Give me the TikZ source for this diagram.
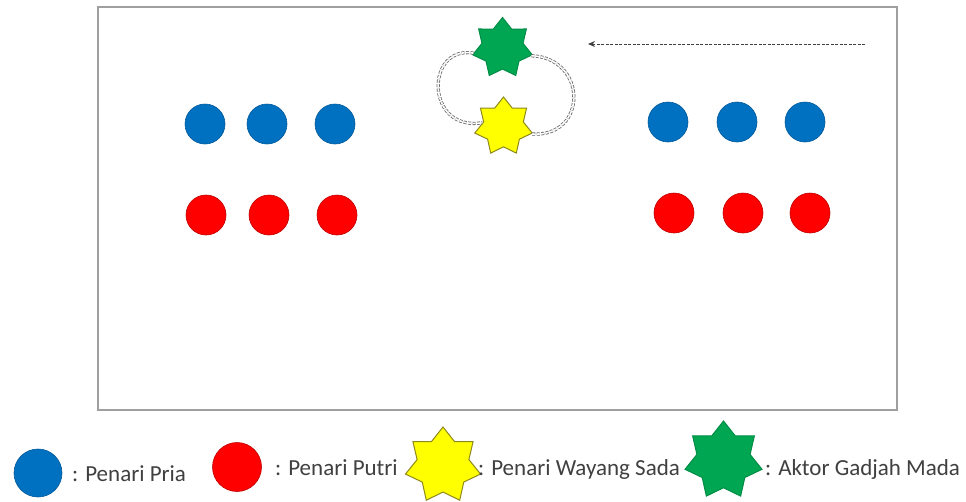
\documentclass[tikz,border=0pt]{standalone}
\usepackage{fontspec}
\setmainfont{Carlito}
\usetikzlibrary{shapes.geometric,arrows.meta}
\definecolor{pblue}{RGB}{0,112,192}
\definecolor{pred}{RGB}{255,0,0}
\definecolor{pyellow}{RGB}{255,255,0}
\definecolor{pgreen}{RGB}{0,166,82}
\definecolor{txt}{RGB}{64,64,64}
\tikzset{
  bluedot/.style={circle,fill=pblue,draw=pblue!80!black,line width=0.6pt,minimum size=40pt,inner sep=0pt},
  reddot/.style={circle,fill=pred,draw=pred!75!black,line width=0.6pt,minimum size=40pt,inner sep=0pt},
  starshape/.style={star,star points=7,star point ratio=1.45,inner sep=0pt,line width=1pt},
  ystar/.style={starshape,fill=pyellow,draw=olive!80!gray},
  gstar/.style={starshape,fill=pgreen,draw=pgreen!85!black},
  legtext/.style={anchor=west,text=txt,font=\fontsize{23}{26}\selectfont,inner sep=0pt},
  orbit/.style={draw=gray!80!black,double=white,double distance=1.6pt,line width=0.8pt,dash pattern=on 3pt off 1.5pt},
  flow/.style={draw=black!75,line width=1pt,dash pattern=on 3pt off 1.5pt,-{Stealth[length=7pt,width=6pt]}},
}
\begin{document}
\begin{tikzpicture}[x=1pt,y=-1pt]
\useasboundingbox (0,0) rectangle (966,501);
\fill[white] (0,0) rectangle (966,501);
\draw[gray!75,line width=1.5pt] (98,7) rectangle (897,410);
% left group
\node[bluedot] (b1) at (205,124) {};
\node[bluedot] (b2) at (267,124) {};
\node[bluedot] (b3) at (335,124) {};
\node[reddot] (r1) at (206,215) {};
\node[reddot] (r2) at (269,215) {};
\node[reddot] (r3) at (337,215) {};
% right group
\node[bluedot] (b4) at (668,122) {};
\node[bluedot] (b5) at (737,122) {};
\node[bluedot] (b6) at (805,122) {};
\node[reddot] (r4) at (674,213) {};
\node[reddot] (r5) at (743,213) {};
\node[reddot] (r6) at (810,213) {};
% stars
\node[gstar,minimum size=61pt] (g) at (502.5,48) {};
\node[ystar,minimum size=59pt] (y) at (503.5,126.5) {};
\draw[orbit] (g.190) .. controls (425,45) and (425,132) .. (y.170);
\draw[orbit] (g.345) .. controls (588,58) and (588,138) .. (y.345);
\coordinate (as) at (865,44);
\coordinate (ae) at (588,44);
\draw[flow] (as) -- (ae);
% legend
\node[bluedot,minimum size=48pt] (lb) at (38,473) {};
\node[legtext] (tb) at (72,474) {: Penari Pria};
\node[reddot,minimum size=49pt] (lr) at (237,467) {};
\node[legtext] (tr) at (275,468) {: Penari Putri};
\node[ystar,minimum size=77pt] (ly) at (443,465.5) {};
\node[legtext] (ty) at (478,469) {: Penari Wayang Sada};
\node[gstar,minimum size=79pt] (lg) at (723.5,460.5) {};
\node[legtext] (tg) at (765,469) {: Aktor Gadjah Mada};
\end{tikzpicture}
\end{document}
